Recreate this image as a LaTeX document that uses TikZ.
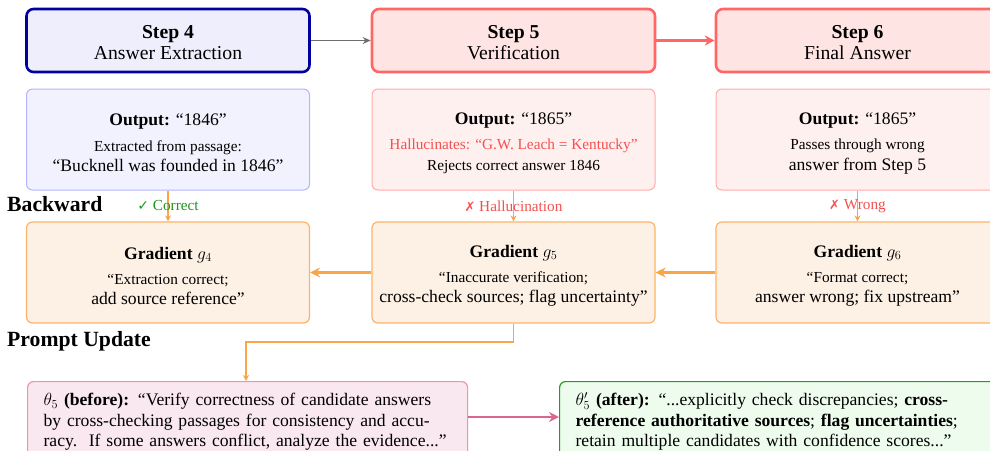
\RequirePackage{fix-cm}
\documentclass[tikz,border=0pt]{standalone}
\usepackage[no-math]{fontspec}
\setmainfont{Liberation Serif}
\newfontfamily\symf{DejaVu Sans}
\usetikzlibrary{arrows.meta}
\newcommand\fnorm{\fontsize{17.6pt}{20.5pt}\selectfont}
\newcommand\fsml{\fontsize{15.3pt}{18.5pt}\selectfont}
\newcommand\fttl{\fontsize{19.7pt}{21pt}\selectfont}
\newcommand\fhd{\fontsize{21.7pt}{26pt}\selectfont}
\newcommand\topstr[1]{\rule{0pt}{#1}}
\definecolor{sBlueD}{RGB}{0,0,160}
\definecolor{sBlueF}{RGB}{238,238,252}
\definecolor{oBlueD}{RGB}{180,180,255}
\definecolor{oBlueF}{RGB}{242,242,255}
\definecolor{sRedD}{RGB}{255,102,102}
\definecolor{sRedF}{RGB}{255,228,228}
\definecolor{oRedD}{RGB}{255,170,170}
\definecolor{oRedF}{RGB}{255,240,240}
\definecolor{gOrD}{RGB}{252,180,105}
\definecolor{gOrF}{RGB}{253,240,228}
\definecolor{arOr}{RGB}{250,165,70}
\definecolor{arGray}{RGB}{110,110,110}
\definecolor{txRed}{RGB}{245,80,80}
\definecolor{txGreen}{RGB}{30,150,30}
\definecolor{bPinkD}{RGB}{232,150,180}
\definecolor{bPinkF}{RGB}{250,232,240}
\definecolor{arPink}{RGB}{220,100,145}
\definecolor{aGreenD}{RGB}{30,160,30}
\definecolor{aGreenF}{RGB}{238,252,238}
\begin{document}
\begin{tikzpicture}[x=1pt,y=-1pt,
  stepbox/.style={draw, rounded corners=7pt, line width=2.6pt, minimum width=283pt, minimum height=63pt, align=center, font=\fttl, inner sep=0pt},
  outbox/.style={draw, rounded corners=6pt, line width=1pt, minimum width=283pt, minimum height=101pt, align=center, font=\fnorm, inner sep=0pt},
  gradbox/.style={outbox, draw=gOrD, fill=gOrF, line width=1.2pt},
  promptbox/.style={draw, rounded corners=6pt, line width=1.2pt, anchor=north west, text width=408pt, minimum width=440pt, minimum height=76pt, inner xsep=16pt, inner ysep=8pt, align=left, font=\fnorm},
  flowgray/.style={-{Stealth[length=8pt,width=7pt]}, line width=1.5pt, draw=arGray},
  flowred/.style={-{Stealth[length=10pt,width=10pt]}, line width=2.7pt, draw=sRedD},
  backarr/.style={-{Stealth[length=10pt,width=10pt]}, line width=2.7pt, draw=arOr},
  vertarr/.style={-{Stealth[length=6pt,width=6pt]}, line width=1.2pt, draw=arOr},
  pinkarr/.style={-{Stealth[length=10pt,width=10pt]}, line width=2.7pt, draw=arPink},
  lbl/.style={font=\fsml, inner sep=0pt},
  heading/.style={font=\fhd\bfseries, anchor=base west, inner sep=0pt}
]
\clip (0,0) rectangle (990,450);

% Step boxes
\node[stepbox, draw=sBlueD, fill=sBlueF] (s4) at (168,40.5) {\topstr{17.5pt}\textbf{Step 4}\\Answer Extraction};
\node[stepbox, draw=sRedD, fill=sRedF] (s5) at (513.5,40.5) {\topstr{17.5pt}\textbf{Step 5}\\Verification};
\node[stepbox, draw=sRedD, fill=sRedF] (s6) at (857.5,40.5) {\topstr{17.5pt}\textbf{Step 6}\\Final Answer};

% Output boxes
\node[outbox, draw=oBlueD, fill=oBlueF] (o4) at (168,139.5) {\topstr{19pt}\textbf{Output:} “1846”\\[5pt]{\fsml Extracted from passage:}\\“Bucknell was founded in 1846”};
\node[outbox, draw=oRedD, fill=oRedF] (o5) at (513.5,139.5) {\topstr{19pt}\textbf{Output:} “1865”\\[5pt]{\fsml\color{txRed}Hallucinates: “G.W. Leach = Kentucky”}\\{\fsml Rejects correct answer 1846}};
\node[outbox, draw=oRedD, fill=oRedF] (o6) at (857.5,139.5) {\topstr{19pt}\textbf{Output:} “1865”\\[5pt]{\fsml Passes through wrong}\\answer from Step 5};

% Gradient boxes
\node[gradbox] (g4) at (168,272.5) {\topstr{19pt}\textbf{Gradient} $g_4$\\[4.5pt]{\fsml “Extraction correct;}\\add source reference”};
\node[gradbox] (g5) at (513.5,272.5) {\topstr{19pt}\textbf{Gradient} $g_5$\\[4.5pt]{\fsml “Inaccurate verification;}\\cross-check sources; flag uncertainty”};
\node[gradbox] (g6) at (857.5,272.5) {\topstr{19pt}\textbf{Gradient} $g_6$\\[4.5pt]{\fsml “Format correct;}\\answer wrong; fix upstream”};

% Headings
\node[heading] (hb) at (7,211.5) {Backward};
\node[heading] (hp) at (7,346) {Prompt Update};

% Prompt boxes
\node[promptbox, draw=bPinkD, fill=bPinkF] (bef) at (27,381) {\topstr{16pt}$\theta_5$ \textbf{(before):} “Verify correctness of candidate answers\\by cross-checking passages for consistency and accu-\\racy.\ \ If some answers conflict, analyze the evidence...”};
\node[promptbox, draw=aGreenD, fill=aGreenF] (aft) at (559,381) {\topstr{16pt}$\theta'_5$ \textbf{(after):} “...explicitly check discrepancies; \textbf{cross-}\\\textbf{reference authoritative sources}; \textbf{flag uncertainties};\\retain multiple candidates with confidence scores...”};

% Forward connectors
\draw[flowgray] (s4) -- (s5);
\draw[flowred] (s5) -- (s6);

% Output to gradient
\draw[vertarr] (o4) -- node[lbl, text=txGreen] {{\symf\fontsize{14pt}{15pt}\selectfont ✓} Correct} (g4);
\draw[vertarr] (o5) -- node[lbl, text=txRed] {{\symf\fontsize{13pt}{15pt}\selectfont ✗} Hallucination} (g5);
\draw[vertarr] (o6) -- node[lbl, text=txRed] {{\symf\fontsize{13pt}{15pt}\selectfont ✗} Wrong} (g6);

% Backward connectors
\draw[backarr] (g6) -- (g5);
\draw[backarr] (g5) -- (g4);

% Prompt update connector
\coordinate (bk) at (246,342);
\draw[vertarr] (g5.south) |- (bk) -- (bk |- bef.north);
\coordinate (py) at (0,417);
\draw[pinkarr] (bef.east |- py) -- (aft.west |- py);
\end{tikzpicture}
\end{document}
